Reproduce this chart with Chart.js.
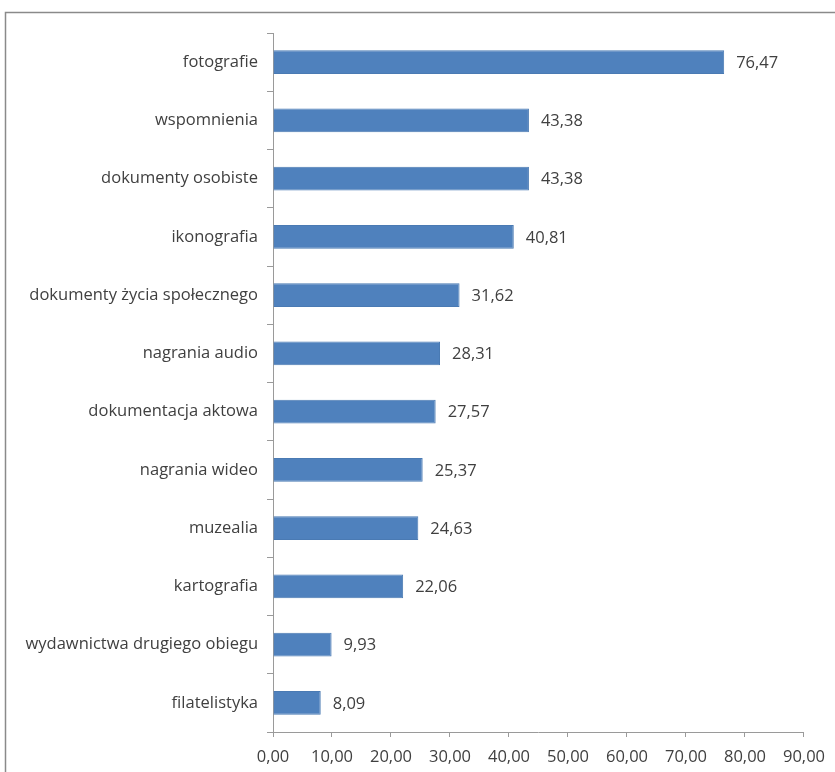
<!DOCTYPE html>
<html>
<head>
<meta charset="utf-8">
<script src="https://cdn.jsdelivr.net/npm/chart.js@4"></script>
<style>
  html, body { margin: 0; padding: 0; background: #fff; }
  #wrap { width: 835px; height: 772px; position: relative; }
</style>
</head>
<body>
<div id="wrap"><canvas id="mainChart" width="835" height="772"></canvas></div>
<script>
const categories = ['fotografie', 'wspomnienia', 'dokumenty osobiste', 'ikonografia',
    'dokumenty życia społecznego', 'nagrania audio', 'dokumentacja aktowa', 'nagrania wideo',
    'muzealia', 'kartografia', 'wydawnictwa drugiego obiegu', 'filatelistyka'];
const values = [76.47, 43.38, 43.38, 40.81, 31.62, 28.31, 27.57, 25.37, 24.63, 22.06, 9.93, 8.09];
const xTicks = [0, 10, 20, 30, 40, 50, 60, 70, 80, 90];

const fmt = v => v.toFixed(2).replace('.', ',');
const textColor = '#404040';
const axisColor = '#9a9a9a';
const fontFamily = '"Open Sans", sans-serif';

// frame line round the chart (top + left, like the pasted Excel object)
const framePlugin = {
    id: 'frame',
    beforeDraw(chart) {
        const c = chart.ctx;
        c.save();
        c.strokeStyle = '#8a8a8a';
        c.lineWidth = 1.5;
        c.beginPath();
        c.moveTo(5.5, 772);
        c.lineTo(5.5, 12.5);
        c.lineTo(835, 12.5);
        c.stroke();
        c.restore();
    }
};

// value labels right of each bar
const valueLabels = {
    id: 'valueLabels',
    afterDatasetsDraw(chart) {
        const c = chart.ctx;
        const meta = chart.getDatasetMeta(0);
        c.save();
        c.fillStyle = textColor;
        c.font = '16.5px ' + fontFamily;
        c.textBaseline = 'middle';
        c.textAlign = 'left';
        meta.data.forEach((bar, i) => {
            c.fillText(fmt(values[i]), bar.x + 12, bar.y + 1);
        });
        c.restore();
    }
};

const mainCtx = document.getElementById('mainChart').getContext('2d');
new Chart(mainCtx, {
    type: 'bar',
    data: {
        labels: categories,
        datasets: [{
            data: values,
            backgroundColor: '#4f81bd',
            borderColor: '#4a7ab3',
            borderWidth: 1,
            categoryPercentage: 1,
            barPercentage: 0.41
        }]
    },
    plugins: [framePlugin, valueLabels],
    options: {
        indexAxis: 'y',
        responsive: false,
        animation: false,
        layout: { padding: { top: 33, left: 15, right: 31, bottom: 0 } },
        plugins: {
            legend: { display: false },
            tooltip: { enabled: false }
        },
        scales: {
            x: {
                min: 0,
                max: 90,
                afterBuildTicks(scale) { scale.ticks = xTicks.map(v => ({ value: v })); },
                afterFit(scale) { scale.height = 40; },
                ticks: {
                    color: textColor,
                    font: { family: fontFamily, size: 16.5 },
                    padding: 10,
                    maxRotation: 0,
                    autoSkip: false,
                    callback: v => fmt(v)
                },
                grid: { drawOnChartArea: false, drawTicks: true, tickLength: 5, color: axisColor },
                border: { color: axisColor }
            },
            y: {
                afterFit(scale) { scale.width = 258; },
                ticks: {
                    color: textColor,
                    font: { family: fontFamily, size: 16.5 },
                    padding: 9
                },
                grid: { drawOnChartArea: false, drawTicks: true, tickLength: 6, color: axisColor, offset: true },
                border: { color: axisColor }
            }
        }
    }
});
</script>
</body>
</html>
